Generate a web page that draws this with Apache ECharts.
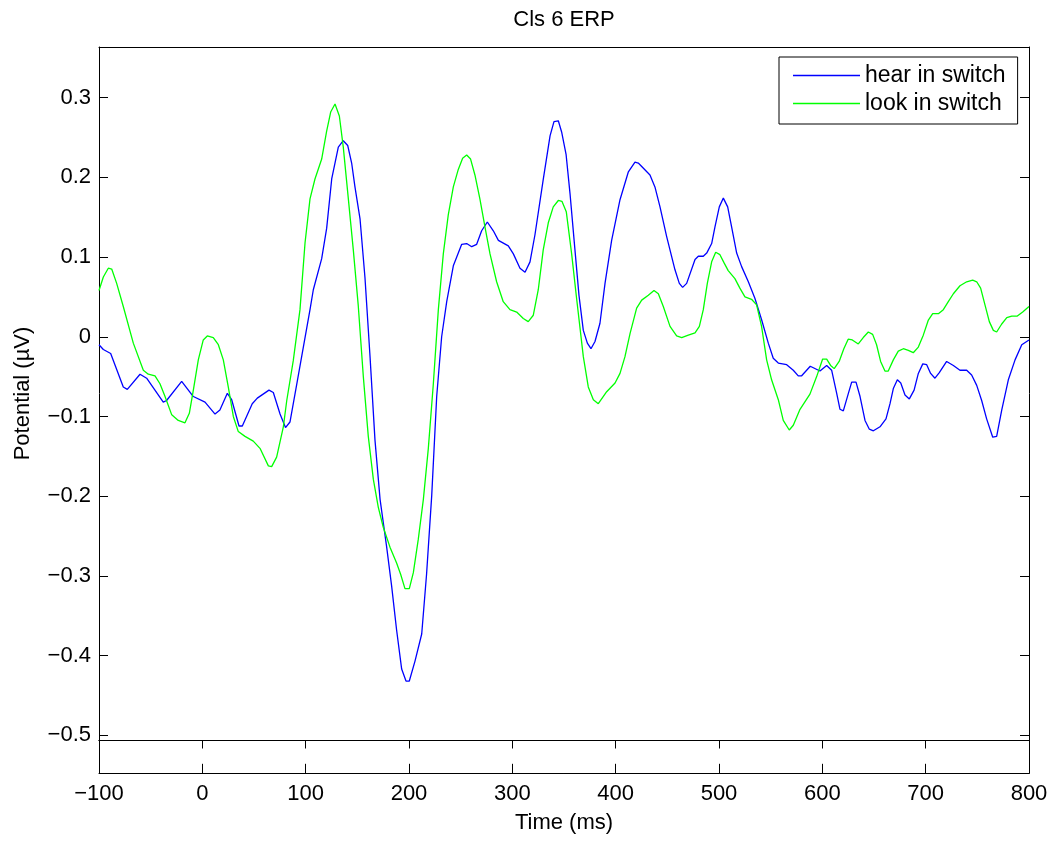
<!DOCTYPE html>
<html><head><meta charset="utf-8">
<script src="https://cdn.jsdelivr.net/npm/echarts@6/dist/echarts.min.js"></script>
<style>html,body{margin:0;padding:0;background:#fff}#c{width:1062px;height:841px}</style>
</head><body><div id="c"></div>
<script>
// ---- data ----
const hearT = [-100,-95.8,-88.7,-76.5,-72.6,-60.3,-53.9,-37.8,-34.6,-20,-8.7,2.6,12.3,17,24.2,28.4,35.5,38.7,48.3,53.2,64.5,68.7,75.2,80.5,84.8,91.3,104.2,107.4,115.5,120.3,125.2,131.6,136.4,140.7,144.5,147.7,152.6,157.4,162.3,167.1,172,178.3,183.2,188,192.9,197.1,200.3,205.8,212.3,217,222,226.8,231.6,236.5,242.9,251,255.8,260.7,265.5,270.3,275.8,281.6,286.5,296.1,301,307.4,312.3,317.1,321.9,330,336.5,340.3,344.5,347.7,352,355.8,360.6,364.5,368.7,372.6,376.1,380,384.8,389.7,396.1,404.2,412.3,418.7,421.9,433.2,438,442.9,449.3,457.4,461.6,464.8,468.7,476.8,480,484.8,488.1,492.9,496.1,500.3,504.2,508.4,512.2,517.1,521.9,528.4,534.8,541.3,547.7,552.5,557.4,565.5,571.9,576.7,580,588.3,597.7,604.2,609,613.9,617.1,620.3,625.2,628.4,632.6,636.5,641.3,645.5,649.4,655.8,661.6,665.5,668.7,672.6,675.9,680,684.2,688.8,692.9,697.2,701,704.8,709,713.2,720.3,726.8,733.2,739.7,744.5,749.4,754.2,759,764.9,768.7,773.6,780,786.5,793,800];
const hearV = [-0.010,-0.016,-0.021,-0.063,-0.066,-0.047,-0.052,-0.082,-0.080,-0.056,-0.075,-0.082,-0.097,-0.092,-0.071,-0.079,-0.112,-0.112,-0.084,-0.077,-0.067,-0.070,-0.097,-0.114,-0.107,-0.060,0.034,0.059,0.098,0.136,0.198,0.238,0.246,0.240,0.218,0.188,0.148,0.074,-0.025,-0.130,-0.204,-0.263,-0.313,-0.368,-0.417,-0.432,-0.432,-0.407,-0.373,-0.298,-0.199,-0.075,0.000,0.044,0.089,0.116,0.117,0.113,0.116,0.133,0.144,0.133,0.121,0.114,0.104,0.086,0.081,0.094,0.128,0.198,0.252,0.270,0.271,0.257,0.229,0.180,0.109,0.052,0.008,-0.008,-0.015,-0.006,0.017,0.067,0.121,0.172,0.207,0.219,0.218,0.203,0.188,0.163,0.126,0.084,0.067,0.062,0.067,0.097,0.101,0.101,0.105,0.117,0.138,0.163,0.174,0.163,0.138,0.105,0.088,0.069,0.048,0.021,-0.008,-0.027,-0.033,-0.035,-0.042,-0.049,-0.049,-0.037,-0.043,-0.036,-0.042,-0.071,-0.091,-0.093,-0.071,-0.057,-0.057,-0.075,-0.105,-0.116,-0.118,-0.113,-0.103,-0.084,-0.065,-0.054,-0.058,-0.073,-0.078,-0.067,-0.046,-0.034,-0.035,-0.046,-0.052,-0.045,-0.031,-0.036,-0.042,-0.042,-0.048,-0.061,-0.080,-0.103,-0.126,-0.125,-0.092,-0.054,-0.029,-0.010,-0.004];
const lookT = [-100,-95.8,-91,-87.7,-82.9,-76.5,-66.8,-57.1,-52.3,-45.8,-41,-36.1,-29.6,-23.3,-16.8,-12.6,-8.7,-3.9,0.9,4.8,10.6,15.5,20.3,25.1,30,34.8,41.3,49.3,55.8,63.9,67.1,71.9,78.4,81.7,88,94.5,99.4,104.2,109,115.5,120.3,124.2,128.4,132.6,136.4,141.3,146.1,150.9,155.8,160.6,165.5,170.3,175.1,181.6,188,191.9,196.1,200.3,204.2,209,213.9,218.7,223.5,228.4,233.2,238,242.9,247.7,251.9,255.8,259.6,263.8,268.6,273.5,278.4,284.8,291.2,297.7,304.2,310.6,315.4,320.3,325.1,329.9,334.8,339.6,344.5,348,352.2,357.4,362.2,368.7,373.5,378.4,383.2,391.3,399.4,404.2,409,413.9,420.3,425.2,431.6,437.1,441.3,446.1,452.6,459,463.9,470.3,476.8,481,484.8,488.7,492.9,496.8,500.9,504.8,508.9,515.4,520.2,525.1,531.5,536.4,541.2,546.1,550.9,557.4,562.2,568,571.9,578.4,588,594.5,600.3,604.2,608,611.5,616.3,620.8,625,629,634.8,639.6,644.5,648.7,652.5,656.4,660.6,663.8,668.7,673.5,678.4,683.2,688,692.9,697.7,702.6,706.8,712.3,717.1,721.9,726.8,733.2,739.7,745.5,749.4,753.2,757.4,761.6,765.5,768.7,773.6,778.5,783.3,788.7,793.9,800];
const lookV = [0.058,0.075,0.086,0.085,0.067,0.038,-0.008,-0.042,-0.047,-0.049,-0.059,-0.075,-0.098,-0.105,-0.108,-0.096,-0.067,-0.029,-0.004,0.001,-0.001,-0.010,-0.029,-0.063,-0.100,-0.119,-0.125,-0.131,-0.140,-0.162,-0.163,-0.151,-0.113,-0.080,-0.030,0.034,0.118,0.173,0.198,0.223,0.258,0.282,0.292,0.277,0.238,0.173,0.109,0.039,-0.050,-0.125,-0.179,-0.214,-0.239,-0.264,-0.284,-0.298,-0.316,-0.316,-0.296,-0.254,-0.204,-0.140,-0.060,0.034,0.104,0.153,0.188,0.210,0.224,0.228,0.223,0.203,0.173,0.138,0.104,0.069,0.044,0.034,0.031,0.023,0.019,0.027,0.059,0.109,0.143,0.163,0.171,0.170,0.157,0.104,0.048,-0.025,-0.063,-0.079,-0.084,-0.069,-0.058,-0.046,-0.025,0.004,0.036,0.046,0.052,0.058,0.054,0.038,0.013,0.001,-0.001,0.002,0.005,0.013,0.034,0.067,0.094,0.106,0.103,0.093,0.083,0.073,0.061,0.050,0.047,0.040,0.013,-0.029,-0.054,-0.079,-0.105,-0.117,-0.111,-0.091,-0.072,-0.050,-0.028,-0.028,-0.036,-0.040,-0.031,-0.015,-0.003,-0.004,-0.009,-0.001,0.006,0.003,-0.010,-0.031,-0.043,-0.043,-0.029,-0.018,-0.015,-0.017,-0.020,-0.013,0.002,0.021,0.029,0.029,0.034,0.044,0.054,0.064,0.069,0.071,0.069,0.061,0.040,0.019,0.008,0.006,0.016,0.024,0.026,0.026,0.031,0.038];
const yTickValues = [-0.5,-0.4,-0.3,-0.2,-0.1,0,0.1,0.2,0.3];
const seriesNames = ['hear in switch','look in switch'];
const titleText = 'Cls 6 ERP';
const xName = 'Time (ms)';
const yName = 'Potential (\u00b5V)';

// ---- chart ----
const FONT = "'Liberation Sans', Arial, Helvetica, sans-serif";
const BLACK = '#000';
function fmt(v){
  if (Math.abs(v) < 1e-9) return '0';
  const a = Math.abs(v);
  const s = Math.abs(a - Math.round(a)) < 1e-9 ? String(Math.round(a)) : a.toFixed(1);
  return (v < 0 ? '\u2212' : '') + s;
}
const zip = (t, v) => t.map((x, i) => [x, v[i]]);
const line = {show:true, onZero:false, lineStyle:{color:BLACK, width:1}};
const txt = {fontFamily:FONT, fontSize:22, color:BLACK};

const chart = echarts.init(document.getElementById('c'), null, {renderer:'canvas'});
chart.setOption({
  animation:false,
  backgroundColor:'#fff',
  title:{text:titleText, left:564, top:9, textAlign:'center', padding:0,
    textStyle:Object.assign({fontWeight:'normal'}, txt)},
  legend:{
    data:[{name:seriesNames[0], icon:'rect'},{name:seriesNames[1], icon:'rect'}],
    orient:'vertical', left:779, top:57, itemWidth:67, itemHeight:1.5, itemGap:5,
    padding:[7,12,9,14], borderColor:BLACK, borderWidth:1, backgroundColor:'#fff', borderRadius:0,
    textStyle:{fontFamily:FONT, fontSize:23, lineHeight:23, color:BLACK}
  },
  grid:[
    {left:99, right:33, top:47, bottom:101},
    {left:99, right:33, top:740, bottom:67.7}
  ],
  xAxis:[
    {gridIndex:0, type:'value', min:-100, max:800, interval:100, position:'bottom',
      axisLine:line, axisTick:{show:false}, axisLabel:{show:false}, splitLine:{show:false}},
    {gridIndex:0, type:'value', min:-100, max:800, interval:100, position:'top',
      axisLine:line, axisTick:{show:false}, axisLabel:{show:false}, splitLine:{show:false}},
    {gridIndex:1, type:'value', min:-100, max:800, interval:100, position:'top',
      axisLine:line, axisTick:{show:true, inside:true, length:8.5, lineStyle:{color:BLACK, width:1}},
      axisLabel:{show:false}, splitLine:{show:false}},
    {gridIndex:1, type:'value', min:-100, max:800, interval:100, position:'bottom',
      axisLine:line, axisTick:{show:true, inside:true, length:9.5, lineStyle:{color:BLACK, width:1}},
      axisLabel:Object.assign({show:true, margin:10, formatter:fmt}, txt), splitLine:{show:false},
      name:xName, nameLocation:'middle', nameGap:39, nameTextStyle:txt}
  ],
  yAxis:[
    {gridIndex:0, type:'value', min:-0.506, max:0.3636, position:'left',
      axisLine:line, axisTick:{show:true, inside:true, length:9, customValues:yTickValues, lineStyle:{color:BLACK}},
      axisLabel:Object.assign({show:true, margin:8, customValues:yTickValues, formatter:fmt}, txt),
      splitLine:{show:false},
      name:yName, nameLocation:'middle', nameGap:65, nameRotate:90, nameTextStyle:txt},
    {gridIndex:0, type:'value', min:-0.506, max:0.3636, position:'right',
      axisLine:line, axisTick:{show:true, inside:true, length:9, customValues:yTickValues, lineStyle:{color:BLACK}},
      axisLabel:{show:false}, splitLine:{show:false}},
    {gridIndex:1, type:'value', min:0, max:1, position:'left',
      axisLine:line, axisTick:{show:false}, axisLabel:{show:false}, splitLine:{show:false}},
    {gridIndex:1, type:'value', min:0, max:1, position:'right',
      axisLine:line, axisTick:{show:false}, axisLabel:{show:false}, splitLine:{show:false}}
  ],
  series:[
    {type:'line', name:seriesNames[0], xAxisIndex:0, yAxisIndex:0, data:zip(hearT, hearV),
      symbol:'none', smooth:false, lineStyle:{color:'#0000ff', width:1.3}, itemStyle:{color:'#0000ff'}},
    {type:'line', name:seriesNames[1], xAxisIndex:0, yAxisIndex:0, data:zip(lookT, lookV),
      symbol:'none', smooth:false, lineStyle:{color:'#00ff00', width:1.3}, itemStyle:{color:'#00ff00'}}
  ]
});
</script></body></html>
